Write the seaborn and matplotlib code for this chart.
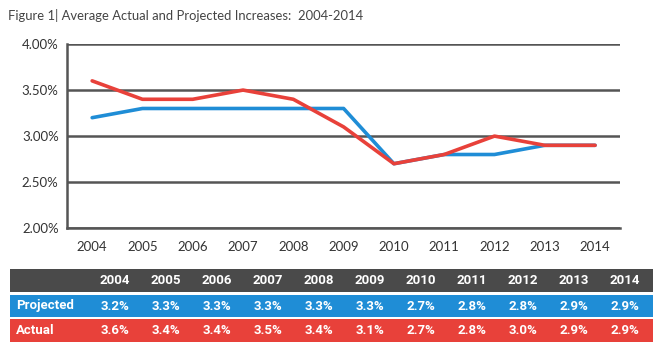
import seaborn as sns
import pandas as pd
import numpy as np
import matplotlib.pyplot as plt
from matplotlib.patches import Rectangle

years = [2004, 2005, 2006, 2007, 2008, 2009, 2010, 2011, 2012, 2013, 2014]
projected = [3.2, 3.3, 3.3, 3.3, 3.3, 3.3, 2.7, 2.8, 2.8, 2.9, 2.9]
actual = [3.6, 3.4, 3.4, 3.5, 3.4, 3.1, 2.7, 2.8, 3.0, 2.9, 2.9]
series_names = ['Projected', 'Actual']
y_ticks = [2.0, 2.5, 3.0, 3.5, 4.0]

BLUE = '#1f8dd6'
RED = '#e8413a'
DARK = '#4a4a4a'
GRID = '#555555'

sns.set_style('white')
plt.rcParams['font.family'] = ['Lato', 'DejaVu Sans']

df = pd.DataFrame({'year': years * 2,
                   'value': projected + actual,
                   'series': ['Projected'] * len(years) + ['Actual'] * len(years)})

fig = plt.figure(figsize=(6.57, 3.51), dpi=100)
ax = fig.add_axes([0.102, 0.350, 0.842, 0.5245])

sns.lineplot(data=df, x='year', y='value', hue='series', hue_order=series_names,
             palette=[BLUE, RED], linewidth=2.6, ax=ax, legend=False)

ax.set_xlim(years[0] - 0.5, years[-1] + 0.5)
ax.set_ylim(y_ticks[0], y_ticks[-1])
ax.set_yticks(y_ticks)
ax.set_yticklabels(['%.2f%%' % v for v in y_ticks])
ax.set_xticks(years)
ax.set_xticklabels([str(y) for y in years])
ax.set_xticks([y - 0.5 for y in years] + [years[-1] + 0.5], minor=True)
ax.tick_params(axis='x', which='major', length=0, pad=9, labelsize=9.5, labelcolor='#333333')
ax.tick_params(axis='x', which='minor', length=4, width=1.5, color=GRID, direction='out')
ax.tick_params(axis='y', which='major', length=4, width=1.5, color=GRID, direction='out',
               labelsize=9.5, labelcolor='#333333', pad=2)
ax.yaxis.grid(True, color=GRID, linewidth=1.8)
ax.set_axisbelow(True)
ax.set_xlabel('')
ax.set_ylabel('')
for side in ['top', 'right']:
    ax.spines[side].set_visible(False)
for side in ['left', 'bottom']:
    ax.spines[side].set_color(GRID)
    ax.spines[side].set_linewidth(1.8)

fig.text(8 / 657, 1 - 16 / 351, 'Figure 1| Average Actual and Projected Increases:  2004-2014',
         fontsize=9.4, color='#444444', va='center', ha='left')

# table under the chart, pixel coordinates
tax = fig.add_axes([0, 0, 1, 1])
tax.set_xlim(0, 657)
tax.set_ylim(351, 0)
tax.axis('off')
left, right = 10, 653
col0, step = 115, 51
rows = [(269, 292, DARK, None, [str(y) for y in years]),
        (295, 317, BLUE, 'Projected', ['%.1f%%' % v for v in projected]),
        (319, 342, RED, 'Actual', ['%.1f%%' % v for v in actual])]
tfont = ['Roboto', 'DejaVu Sans']
for top, bot, color, label, cells in rows:
    tax.add_patch(Rectangle((left, top), right - left, bot - top, color=color, lw=0))
    mid = (top + bot) / 2
    if label:
        tax.text(left + 6, mid, label, color='white', fontsize=9.5, fontweight='bold',
                 va='center', ha='left', family=tfont)
    for i, c in enumerate(cells):
        tax.text(col0 + i * step, mid, c, color='white', fontsize=9.5, fontweight='bold',
                 va='center', ha='center', family=tfont)

fig.savefig('out.png', dpi=100)
